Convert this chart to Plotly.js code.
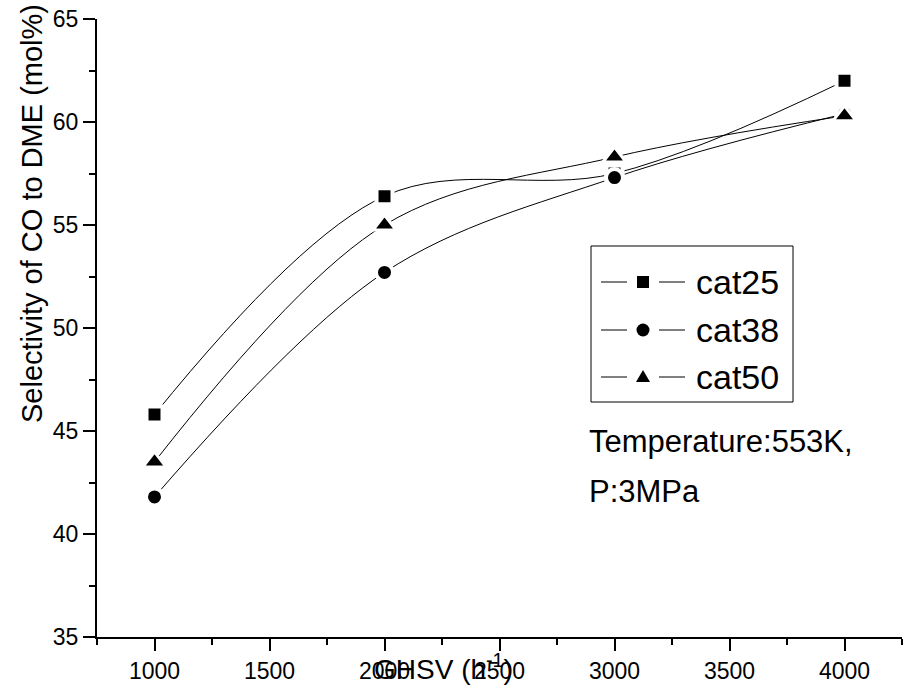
<!DOCTYPE html>
<html>
<head>
<meta charset="utf-8">
<script src="https://cdn.plot.ly/plotly-3.0.1.min.js"></script>
<style>
  html, body { margin: 0; padding: 0; background: #fff; }
  #chart { width: 914px; height: 689px; }
</style>
</head>
<body>
<div id="chart"></div>
<script>
// ---- data ----
const ghsv = [1000, 2000, 3000, 4000];
const seriesNames = ["cat25", "cat38", "cat50"];
const cat25 = [45.8, 56.4, 57.5, 62.0];
const cat38 = [41.8, 52.7, 57.3, 60.4];
const cat50 = [43.5, 55.0, 58.3, 60.3];
const symbols = ["square", "circle", "triangle-up"];
const xTitle = "GHSV (h<sup>-1</sup>)";
const yTitle = "Selectivity of CO to DME (mol%)";
const noteLines = ["Temperature:553K,", "P:3MPa"];

const FONT = "Liberation Sans, Arial, Helvetica, sans-serif";
const allY = [cat25, cat38, cat50];

// plot-area geometry (pixels) used for paper-coordinate placement of texts/legend
const L = 97, R = 902, T = 19, B = 637;
const fx = p => (p - L) / (R - L);
const fy = p => (B - p) / (B - T);

const markerSizes = [16, 17, 20];
const ringWidths = [4, 4, 3];
function markerStyle(i) {
  return {
    symbol: symbols[i],
    size: markerSizes[i],
    color: "#000",
    line: { color: "#fff", width: ringWidths[i] }
  };
}

const traces = [];
allY.forEach((ys, i) => {
  traces.push({
    x: ghsv, y: ys, name: seriesNames[i], type: "scatter",
    mode: "lines",
    line: { color: "#000", width: 1, shape: "spline", smoothing: 1 },
    hoverinfo: "x+y+name"
  });
});
allY.forEach((ys, i) => {
  traces.push({
    x: ghsv, y: ys, name: seriesNames[i], type: "scatter",
    mode: "markers",
    marker: markerStyle(i),
    hoverinfo: "skip"
  });
});

// ---- hand-built legend (Origin style: line — marker — line, label) ----
const legendRows = [282, 330, 377];
const shapes = [
  { type: "rect", xref: "paper", yref: "paper",
    x0: fx(591), x1: fx(793), y0: fy(246), y1: fy(402),
    line: { color: "#000", width: 1 }, fillcolor: "#fff", layer: "above" }
];
const annotations = [];
legendRows.forEach((ry, i) => {
  shapes.push({ type: "line", xref: "paper", yref: "paper",
    x0: fx(601), x1: fx(627), y0: fy(ry), y1: fy(ry),
    line: { color: "#000", width: 1 }, layer: "above" });
  shapes.push({ type: "line", xref: "paper", yref: "paper",
    x0: fx(659), x1: fx(685), y0: fy(ry), y1: fy(ry),
    line: { color: "#000", width: 1 }, layer: "above" });
  const base = { xref: "paper", yref: "paper", xsizemode: "pixel", ysizemode: "pixel",
    xanchor: fx(643), yanchor: fy(ry), fillcolor: "#000", line: { width: 0 }, layer: "above" };
  if (symbols[i] === "square") {
    shapes.push(Object.assign({ type: "rect", x0: -6, x1: 6, y0: -6, y1: 6 }, base));
  } else if (symbols[i] === "circle") {
    shapes.push(Object.assign({ type: "circle", x0: -6.5, x1: 6.5, y0: -6.5, y1: 6.5 }, base));
  } else {
    shapes.push(Object.assign({ type: "path", path: "M-7,-5 L7,-5 L0,7 Z" }, base));
  }
  annotations.push({
    text: seriesNames[i], showarrow: false, xref: "paper", yref: "paper",
    x: fx(694), y: fy(ry), xanchor: "left", yanchor: "middle",
    font: { family: FONT, size: 34, color: "#000" }
  });
});

annotations.push(
  {
    text: yTitle, textangle: -90, showarrow: false,
    xref: "paper", yref: "paper",
    x: fx(32), y: fy(214), xanchor: "center", yanchor: "middle",
    font: { family: FONT, size: 29, color: "#000" }
  },
  {
    text: xTitle, showarrow: false,
    xref: "paper", yref: "paper",
    x: fx(443), y: fy(667), xanchor: "center", yanchor: "middle",
    font: { family: FONT, size: 28, color: "#000" }
  },
  {
    text: noteLines[0], showarrow: false, align: "left",
    xref: "paper", yref: "paper",
    x: fx(587), y: fy(441), xanchor: "left", yanchor: "middle",
    font: { family: FONT, size: 31, color: "#000" }
  },
  {
    text: noteLines[1], showarrow: false, align: "left",
    xref: "paper", yref: "paper",
    x: fx(587), y: fy(491), xanchor: "left", yanchor: "middle",
    font: { family: FONT, size: 31, color: "#000" }
  }
);

const layout = {
  width: 914, height: 689,
  margin: { l: L, r: 914 - R, t: T, b: 689 - B },
  paper_bgcolor: "#fff", plot_bgcolor: "#fff",
  font: { family: FONT, color: "#000", size: 23 },
  showlegend: false,
  xaxis: {
    range: [750, 4250], tick0: 1000, dtick: 500,
    ticks: "outside", ticklen: 12, tickwidth: 2, tickcolor: "#000",
    minor: { dtick: 250, tick0: 750, ticks: "outside", ticklen: 6, tickwidth: 2, tickcolor: "#000" },
    showline: true, linecolor: "#000", linewidth: 2,
    showgrid: false, zeroline: false,
    tickfont: { family: FONT, size: 23, color: "#000" },
    fixedrange: true
  },
  yaxis: {
    range: [35, 65], tick0: 35, dtick: 5,
    ticks: "outside", ticklen: 12, tickwidth: 2, tickcolor: "#000",
    minor: { dtick: 2.5, ticks: "outside", ticklen: 6, tickwidth: 2, tickcolor: "#000" },
    showline: true, linecolor: "#000", linewidth: 2,
    showgrid: false, zeroline: false,
    tickfont: { family: FONT, size: 23, color: "#000" },
    fixedrange: true
  },
  shapes: shapes,
  annotations: annotations
};

Plotly.newPlot("chart", traces, layout, { displayModeBar: false, staticPlot: true });
</script>
</body>
</html>
